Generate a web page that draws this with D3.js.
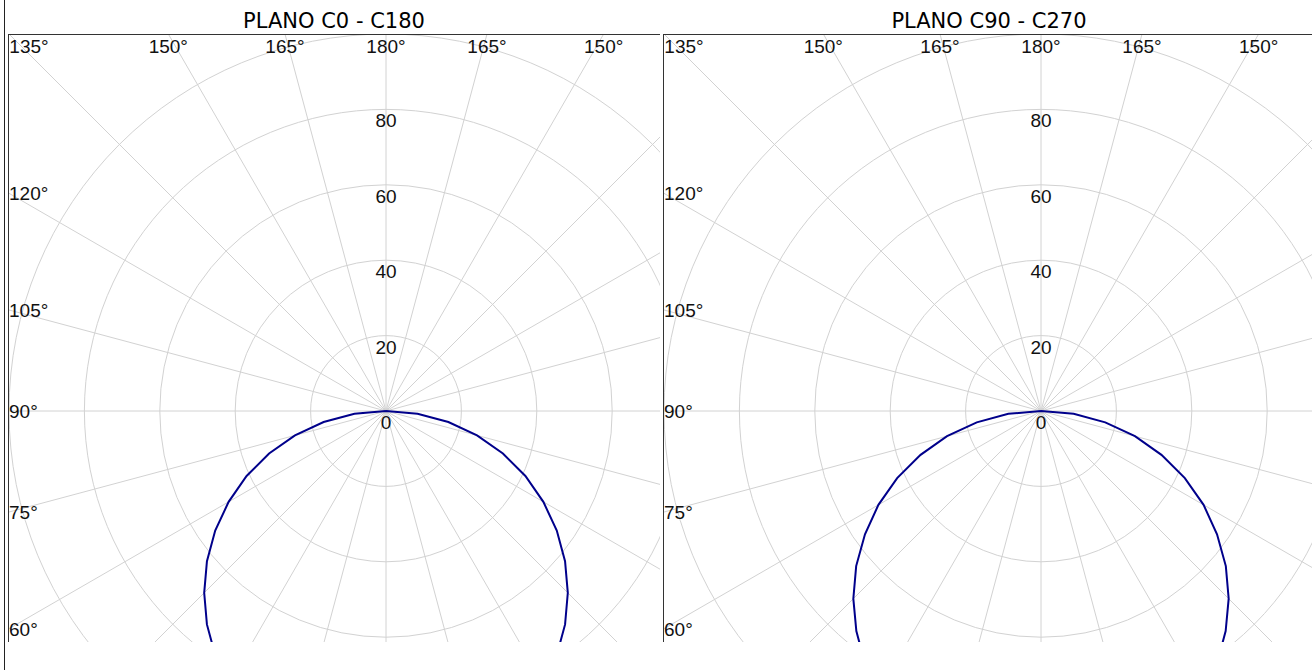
<!DOCTYPE html>
<html>
<head>
<meta charset="utf-8">
<script src="https://cdn.jsdelivr.net/npm/d3@7/dist/d3.min.js"></script>
<style>
  html, body { margin: 0; padding: 0; background: #ffffff; }
  svg { display: block; }
</style>
</head>
<body>
<svg id="chart" width="1312" height="670"></svg>
<script>
// ---------- data ----------
const panelTitles = ["PLANO C0 - C180", "PLANO C90 - C270"];
// gamma angles (degrees from nadir), one half of each plane
const gammaAngles = [0, 5, 10, 15, 20, 25, 30, 35, 40, 45, 50, 55, 60, 65, 70, 75, 80, 85, 90];
// intensity values
const planeC0   = [96.5, 96.1, 95.0, 93.2, 90.7, 87.5, 83.6, 79.0, 73.9, 68.2, 62.0, 55.3, 48.2, 40.8, 33.0, 25.0, 16.8, 8.4, 0];
const planeC180 = [96.5, 96.1, 95.0, 93.2, 90.7, 87.5, 83.6, 79.0, 73.9, 68.2, 62.0, 55.3, 48.2, 40.8, 33.0, 25.0, 16.8, 8.4, 0];
const planeC90  = [99.5, 99.1, 98.0, 96.1, 93.5, 90.2, 86.2, 81.5, 76.2, 70.4, 64.0, 57.0, 49.8, 42.1, 34.0, 25.8, 17.3, 8.7, 0];
const planeC270 = [99.5, 99.1, 98.0, 96.1, 93.5, 90.2, 86.2, 81.5, 76.2, 70.4, 64.0, 57.0, 49.8, 42.1, 34.0, 25.8, 17.3, 8.7, 0];
const ringTicks = [20, 40, 60, 80, 100];
const radialTickLabels = [0, 20, 40, 60, 80];
const spokeAngles = [0, 15, 30, 45, 60, 75, 90, 105, 120, 135, 150, 165, 180];

// ---------- layout ----------
const svg = d3.select("#chart");
const panels = [
  { title: panelTitles[0], left: 8,   right: 660,  rightSeries: planeC0,  leftSeries: planeC180 },
  { title: panelTitles[1], left: 663, right: 1315, rightSeries: planeC90, leftSeries: planeC270 }
];
const panelTop = 34, panelBottom = 642, cy = 411, centerOffset = 378;
const r = d3.scaleLinear().domain([0, 100]).range([0, 377]);
const gridColor = "#d2d2d2";
const labelFont = "'Liberation Sans', Arial, sans-serif";

// outer frame line
svg.append("line").attr("x1", 4.5).attr("x2", 4.5).attr("y1", 0).attr("y2", 670)
  .attr("stroke", "#222").attr("stroke-width", 1);

const defs = svg.append("defs");

panels.forEach((p, i) => {
  const cx = p.left + centerOffset;
  const g = svg.append("g");
  const clipId = "clip" + i;
  defs.append("clipPath").attr("id", clipId)
    .append("rect").attr("x", p.left).attr("y", panelTop)
    .attr("width", p.right - p.left).attr("height", panelBottom - panelTop);

  // title
  g.append("text")
    .attr("x", (p.left + p.right) / 2).attr("y", 28)
    .attr("text-anchor", "middle")
    .attr("font-family", "'DejaVu Sans', Verdana, sans-serif")
    .attr("font-size", 21).attr("fill", "#000")
    .text(p.title);

  const inner = g.append("g").attr("clip-path", `url(#${clipId})`);
  const plot = inner.append("g").attr("transform", `translate(${cx},${cy})`);

  // rings
  plot.selectAll("circle.ring").data(ringTicks).join("circle")
    .attr("class", "ring").attr("r", d => r(d))
    .attr("fill", "none").attr("stroke", gridColor).attr("stroke-width", 1);

  // spokes (both sides)
  const spokeDirs = [];
  spokeAngles.forEach(a => {
    spokeDirs.push({ gamma: a, side: 1 });
    if (a !== 0 && a !== 180) spokeDirs.push({ gamma: a, side: -1 });
  });
  plot.selectAll("line.spoke").data(spokeDirs).join("line")
    .attr("class", "spoke")
    .attr("x1", 0).attr("y1", 0)
    .attr("x2", d => d.side * r(250) * Math.sin(d.gamma * Math.PI / 180))
    .attr("y2", d => r(250) * Math.cos(d.gamma * Math.PI / 180))
    .attr("stroke", gridColor).attr("stroke-width", 1);

  // radial tick labels
  plot.selectAll("text.rtick").data(radialTickLabels).join("text")
    .attr("class", "rtick")
    .attr("x", 0).attr("y", d => -r(d) + 18)
    .attr("text-anchor", "middle")
    .attr("font-family", labelFont).attr("font-size", 19).attr("fill", "#111")
    .text(d => d);

  // intensity curve: from 90 on the left side, through nadir, to 90 on the right side
  const n = gammaAngles.length;
  const ordered = [];
  for (let k = n - 1; k >= 0; k--) ordered.push({ a: Math.PI + gammaAngles[k] * Math.PI / 180, v: p.leftSeries[k] });
  for (let k = 1; k < n; k++) ordered.push({ a: Math.PI - gammaAngles[k] * Math.PI / 180, v: p.rightSeries[k] });
  const line = d3.lineRadial().angle(d => d.a).radius(d => r(d.v)).curve(d3.curveLinear);
  plot.append("path").datum(ordered).attr("d", line)
    .attr("fill", "none").attr("stroke", "#00008b").attr("stroke-width", 2);

  // panel borders (top and left)
  g.append("line").attr("x1", p.left).attr("x2", p.right).attr("y1", panelTop + 0.5).attr("y2", panelTop + 0.5)
    .attr("stroke", "#333").attr("stroke-width", 1);
  g.append("line").attr("x1", p.left + 0.5).attr("x2", p.left + 0.5).attr("y1", panelTop).attr("y2", panelBottom)
    .attr("stroke", "#333").attr("stroke-width", 1);

  // angle labels where spokes meet the top or left edge
  const angleLabels = [];
  spokeDirs.forEach(d => {
    const rad = d.gamma * Math.PI / 180;
    const dx = d.side * Math.sin(rad), dy = Math.cos(rad);
    if (dy < -1e-9) {
      const t = (panelTop - cy) / dy;
      const x = cx + t * dx;
      if (x >= p.left - 0.5 && x <= p.right) { angleLabels.push({ edge: "top", x: x, y: panelTop, txt: d.gamma + "°" }); return; }
    }
    if (dx < -1e-9) {
      const t = (p.left - cx) / dx;
      const y = cy + t * dy;
      if (y >= panelTop && y <= panelBottom) angleLabels.push({ edge: "left", x: p.left, y: y, txt: d.gamma + "°" });
    }
  });
  g.selectAll("text.alab").data(angleLabels).join("text")
    .attr("class", "alab")
    .attr("font-family", labelFont).attr("font-size", 19).attr("fill", "#111")
    .attr("text-anchor", d => d.edge === "top" ? "middle" : "start")
    .attr("x", d => d.edge === "top" ? Math.max(d.x, p.left + 21) : d.x + 1)
    .attr("y", d => d.edge === "top" ? panelTop + 19 : d.y + 7)
    .text(d => d.txt);
});
</script>
</body>
</html>
